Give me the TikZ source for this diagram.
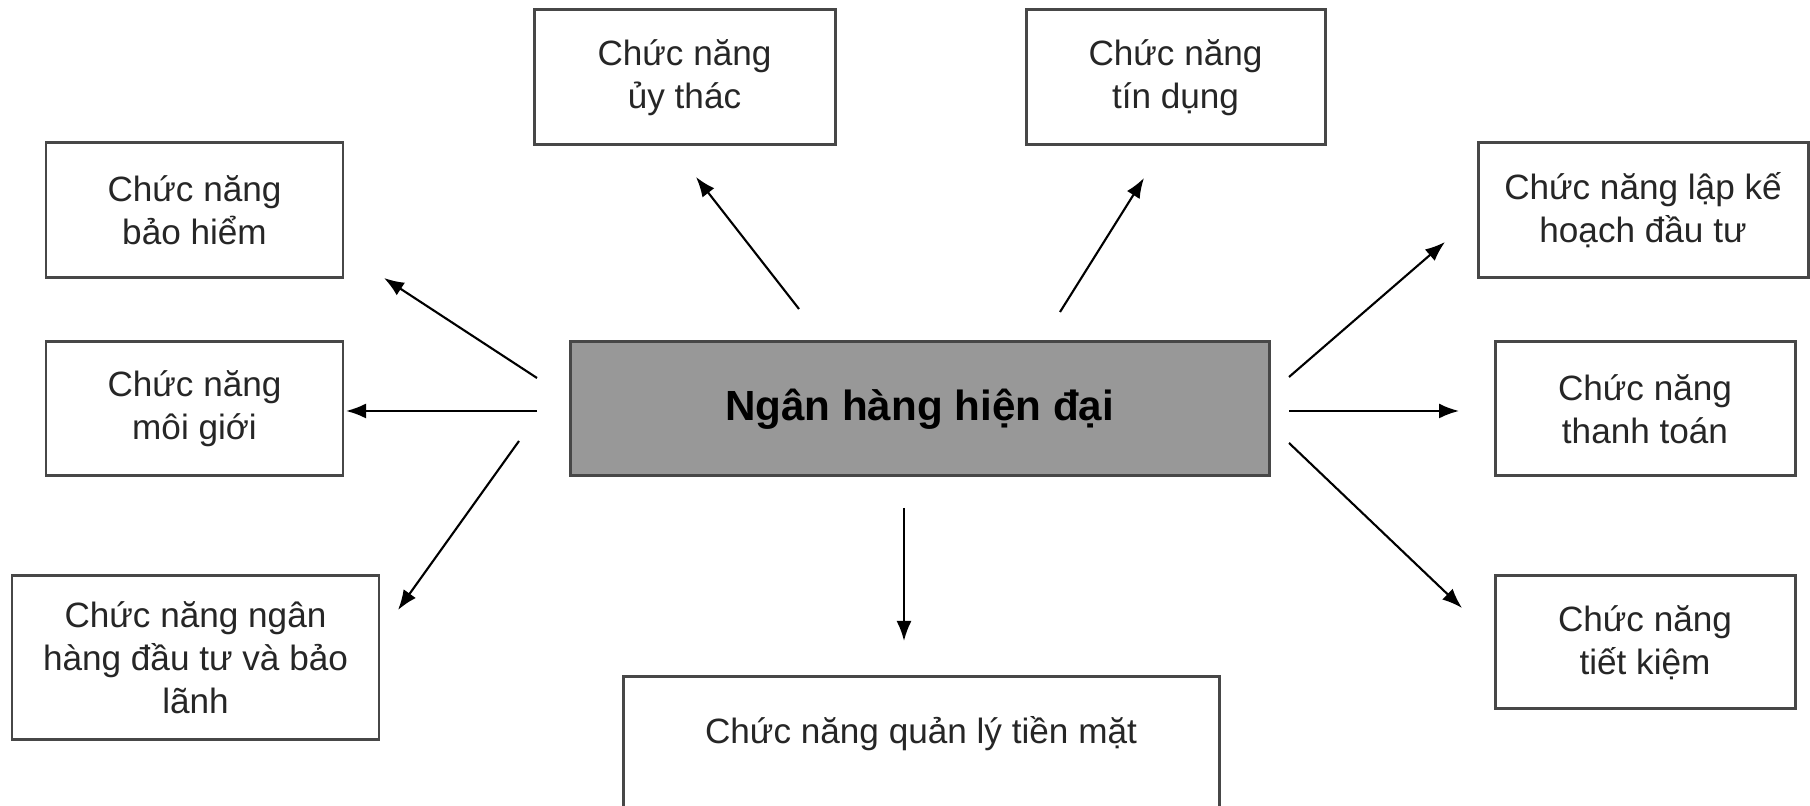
\documentclass[tikz,border=0pt]{standalone}
\usepackage{fontspec}
\setmainfont{Liberation Sans}
\usetikzlibrary{arrows.meta}
\definecolor{hubgray}{RGB}{152,152,152}
\tikzset{
    fnbox/.style={draw=black!72, line width=0.85pt, fill=white, align=center,
        font=\fontsize{10}{12.2}\selectfont, text=black!85},
    arr/.style={-{Latex[length=2mm,width=1.5mm]}, line width=0.6pt},
}
\begin{document}
\begin{tikzpicture}
    \useasboundingbox (0,0) rectangle (18.1,8.06);
    % centre
    \node[fnbox, fill=hubgray, text=black, minimum width=6.99cm, minimum height=1.34cm,
        font=\fontsize{12}{14}\selectfont\bfseries] (hub) at (9.195,3.97) {Ngân hàng hiện đại};
    % functions
    \node[fnbox, minimum width=3.01cm, minimum height=1.35cm] (trust) at (6.845,7.285) {Chức năng\\ủy thác};
    \node[fnbox, minimum width=2.99cm, minimum height=1.35cm] (credit) at (11.755,7.285) {Chức năng\\tín dụng};
    \node[fnbox, minimum width=2.97cm, minimum height=1.35cm] (insurance) at (1.945,5.955) {Chức năng\\bảo hiểm};
    \node[fnbox, minimum width=2.97cm, minimum height=1.34cm] (broker) at (1.945,3.97) {Chức năng\\môi giới};
    \node[fnbox, minimum width=3.67cm, minimum height=1.64cm] (investbank) at (1.955,1.48) {Chức năng ngân\\hàng đầu tư và bảo\\lãnh};
    \node[fnbox, minimum width=3.30cm, minimum height=1.35cm] (planning) at (16.43,5.955) {Chức năng lập kế\\hoạch đầu tư};
    \node[fnbox, minimum width=3.00cm, minimum height=1.34cm] (payment) at (16.45,3.97) {Chức năng\\thanh toán};
    \node[fnbox, minimum width=3.00cm, minimum height=1.33cm] (savings) at (16.45,1.635) {Chức năng\\tiết kiệm};
    \node[fnbox, anchor=north, minimum width=5.96cm, text height=0.55cm, text depth=1.0cm] (cash) at (9.21,1.31) {Chức năng quản lý tiền mặt};
    % arrow ends
    \coordinate (hub-trust) at (7.99,4.97);
    \coordinate (trust-in) at (6.96,6.29);
    \coordinate (hub-credit) at (10.60,4.94);
    \coordinate (credit-in) at (11.44,6.28);
    \coordinate (hub-insurance) at (5.37,4.28);
    \coordinate (insurance-in) at (3.84,5.28);
    \coordinate (hub-broker) at (5.37,3.95);
    \coordinate (broker-in) at (3.46,3.95);
    \coordinate (hub-investbank) at (5.19,3.65);
    \coordinate (investbank-in) at (3.98,1.96);
    \coordinate (hub-cash) at (9.04,2.98);
    \coordinate (cash-in) at (9.04,1.65);
    \coordinate (hub-planning) at (12.89,4.29);
    \coordinate (planning-in) at (14.45,5.64);
    \coordinate (hub-payment) at (12.89,3.95);
    \coordinate (payment-in) at (14.59,3.95);
    \coordinate (hub-savings) at (12.89,3.63);
    \coordinate (savings-in) at (14.62,1.98);
    \foreach \f in {trust,credit,insurance,broker,investbank,cash,planning,payment,savings}
        \draw[arr] (hub-\f) -- (\f-in);
\end{tikzpicture}
\end{document}
